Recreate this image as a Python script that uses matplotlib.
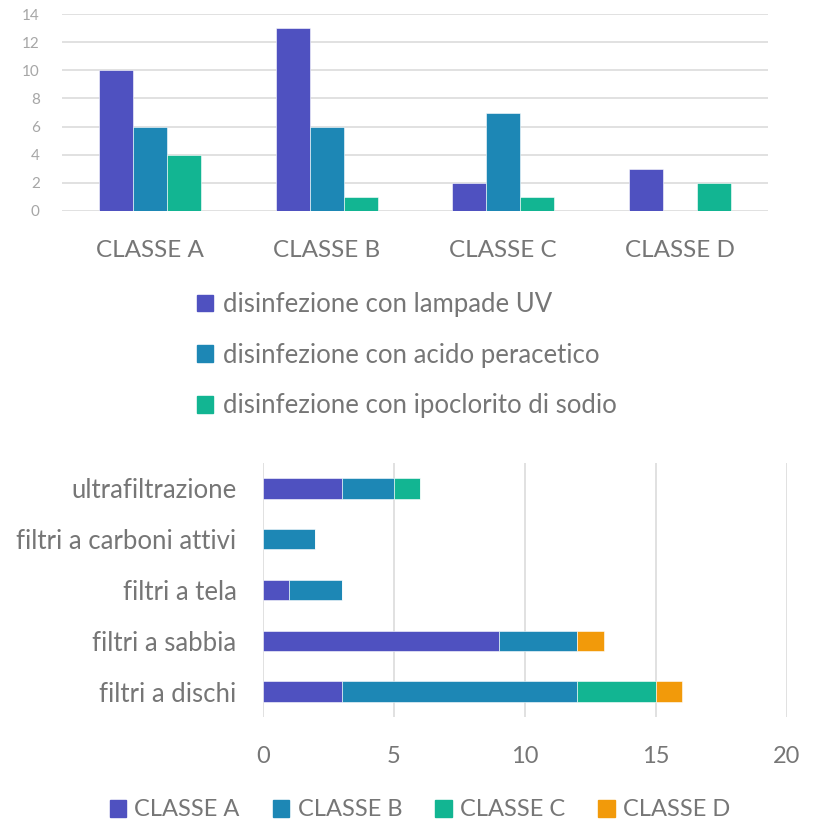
import numpy as np
import matplotlib.pyplot as plt
from matplotlib.patches import Patch

plt.rcParams['font.family'] = ['Lato', 'DejaVu Sans']

# top chart: disinfection by class
classes = ['CLASSE A', 'CLASSE B', 'CLASSE C', 'CLASSE D']
dis_labels = ['disinfezione con lampade UV',
              'disinfezione con acido peracetico',
              'disinfezione con ipoclorito di sodio']
uv = [10, 13, 2, 3]
acido = [6, 6, 7, 0]
ipoclorito = [4, 1, 1, 2]

# bottom chart: filtration by class (stacked)
filtri = ['filtri a dischi', 'filtri a sabbia', 'filtri a tela',
          'filtri a carboni attivi', 'ultrafiltrazione']
cl_a = [3, 9, 1, 0, 3]
cl_b = [9, 3, 2, 2, 2]
cl_c = [3, 0, 0, 0, 1]
cl_d = [1, 1, 0, 0, 0]

colors = ['#4F51C0', '#1D87B5', '#12B592', '#F29A0A']
txt = '#767676'
grid = '#DEDEDE'

fig = plt.figure(figsize=(8.18, 8.23), dpi=100)

# ---- top grouped bars
ax1 = fig.add_axes([62/818, 1-211/823, 706/818, 197/823])
x = np.arange(len(classes))
w = 0.193
for i, vals in enumerate([uv, acido, ipoclorito]):
    ax1.bar(x + (i-1)*w, vals, w, color=colors[i], edgecolor='white',
            linewidth=0.4, zorder=3, label=dis_labels[i])
ax1.set_xlim(-0.5, 3.5)
ax1.set_ylim(0, 14)
ax1.set_yticks(range(0, 15, 2))
ax1.set_xticks(x)
ax1.set_xticklabels(classes, fontsize=17.5, color=txt)
ax1.tick_params(axis='y', labelsize=11, colors='#A6A6A6', length=0, pad=16)
ax1.tick_params(axis='x', length=0, pad=21)
ax1.grid(axis='y', color=grid, linewidth=1.3, zorder=0)
for s in ax1.spines.values():
    s.set_visible(False)

h1 = [Patch(color=c) for c in colors[:3]]
fig.legend(h1, dis_labels, loc='upper left', bbox_to_anchor=(197/818, 1-292/823),
           frameon=False, fontsize=18.5, labelcolor=txt, handlelength=0.62,
           handleheight=0.62, handletextpad=0.4, labelspacing=1.0,
           borderpad=0, borderaxespad=0)

# ---- bottom stacked horizontal bars
ax2 = fig.add_axes([263/818, 1-717/823, 524/818, 254/823])
y = np.arange(len(filtri))
left = np.zeros(len(filtri))
for vals, c, lab in zip([cl_a, cl_b, cl_c, cl_d], colors, classes):
    ax2.barh(y, vals, 0.4, left=left, color=c, edgecolor='white',
             linewidth=0.4, zorder=3, label=lab)
    left += np.array(vals)
ax2.set_ylim(-0.5, 4.5)
ax2.set_xlim(0, 20)
ax2.set_xticks(range(0, 21, 5))
ax2.set_yticks(y)
ax2.set_yticklabels(filtri, fontsize=18.5, color=txt)
ax2.tick_params(axis='x', labelsize=17, colors=txt, length=0, pad=21)
ax2.tick_params(axis='y', length=0, pad=19)
ax2.grid(axis='x', color=grid, linewidth=1.3, zorder=0)
for s in ax2.spines.values():
    s.set_visible(False)

h2 = [Patch(color=c) for c in colors]
fig.legend(h2, classes, loc='center', bbox_to_anchor=(420/818, 1-810/823),
           ncol=4, frameon=False, fontsize=17, labelcolor=txt,
           handlelength=0.7, handleheight=0.7, handletextpad=0.35,
           columnspacing=1.4, borderpad=0, borderaxespad=0)

fig.savefig('out.png', dpi=100)
